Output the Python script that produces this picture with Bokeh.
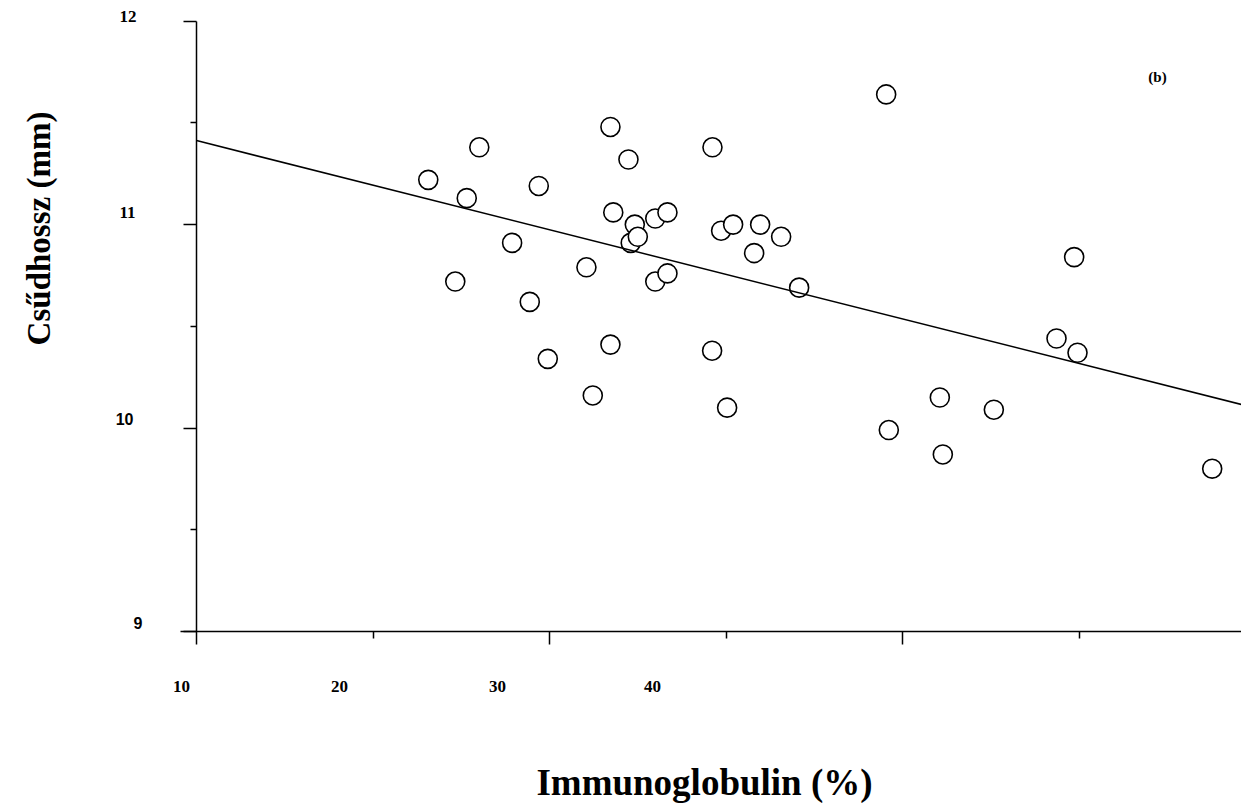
import math
from bokeh.plotting import figure
from bokeh.models import Range1d, FixedTicker, Label, CustomJSTickFormatter, ColumnDataSource
from bokeh.embed import file_html
from bokeh.resources import INLINE

# ---------------- data ----------------
immunoglobulin = [23.13, 24.66, 25.31, 26.02, 27.88, 28.88, 29.39, 29.90, 32.09, 32.45,
                  33.45, 33.61, 33.45, 34.47, 34.60, 34.83, 35.00, 35.99, 35.99, 36.68,
                  36.68, 39.23, 39.21, 39.72, 40.06, 40.40, 41.59, 41.93, 43.12, 44.14,
                  49.07, 49.22, 52.11, 52.28, 55.17, 58.72, 59.72, 59.91, 67.54]
csudhossz = [11.22, 10.72, 11.13, 11.38, 10.91, 10.62, 11.19, 10.34, 10.79, 10.16,
             11.48, 11.06, 10.41, 11.32, 10.91, 11.00, 10.94, 11.03, 10.72, 11.06,
             10.76, 11.38, 10.38, 10.97, 10.10, 11.00, 10.86, 11.00, 10.94, 10.69,
             11.64, 9.99, 10.15, 9.87, 10.09, 10.44, 10.84, 10.37, 9.80]
fit_x = [10, 70]
fit_y = [11.413, 10.098]

x_major_ticks = [10, 30, 50, 70]
x_minor_ticks = [20, 40, 60]
x_tick_labels = ["10", "20", "30", "40"]
y_major_ticks = [9, 10, 11, 12]
y_minor_ticks = [9.5, 10.5, 11.5]
y_tick_labels = ["12", "11", "10", "9"]

x_title = "Immunoglobulin (%)"
y_title = "Csűdhossz (mm)"
panel_tag = "(b)"

# ---------------- layout (canvas pixels) ----------------
W, H = 1241, 803
PX_PER_X = 17.652      # pixels per x unit
PX_PER_Y = 203.4       # pixels per y unit
X_ORIGIN_PX = 196      # where x = 10 sits
Y_TOP_PX = 20.7        # where y = 12 sits
X0 = 10 - X_ORIGIN_PX / PX_PER_X
X1 = 10 + (W - X_ORIGIN_PX) / PX_PER_X
Y1 = 12 + Y_TOP_PX / PX_PER_Y
Y0 = 12 - (H - Y_TOP_PX) / PX_PER_Y


def xd(px):
    return X0 + px / W * (X1 - X0)


def yd(py):
    return Y1 - py / H * (Y1 - Y0)


SERIF = "Liberation Serif"
SANS = "Liberation Sans"

p = figure(width=W, height=H, x_range=Range1d(X0, X1), y_range=Range1d(Y0, Y1),
           output_backend="svg", toolbar_location=None,
           min_border_left=0, min_border_right=0, min_border_top=0, min_border_bottom=0)
p.title.visible = False
p.outline_line_color = None
p.xgrid.visible = False
p.ygrid.visible = False
p.background_fill_color = "white"
p.border_fill_color = "white"

empty = CustomJSTickFormatter(code="return ''")
axis_specs = ((p.xaxis, 9, x_major_ticks, x_minor_ticks, 7, (xd(180), X1)),
              (p.yaxis, 10, y_major_ticks, y_minor_ticks, 6, (9, 12)))
for ax, loc, ticks, minors, minor_len, bnds in axis_specs:
    ax.fixed_location = loc
    ax.bounds = bnds
    ax.ticker = FixedTicker(ticks=ticks, minor_ticks=minors)
    ax.formatter = empty
    ax.major_label_text_font_size = "0px"
    ax.axis_line_color = "black"
    ax.axis_line_width = 1.5
    ax.major_tick_line_color = "black"
    ax.major_tick_line_width = 1.5
    ax.minor_tick_line_color = "black"
    ax.minor_tick_line_width = 1.5
    ax.major_tick_out = 13
    ax.major_tick_in = 0
    ax.minor_tick_out = minor_len
    ax.minor_tick_in = 0

src = ColumnDataSource(dict(x=immunoglobulin, y=csudhossz))
p.scatter("x", "y", source=src, marker="circle", size=19, fill_color="white",
          line_color="black", line_width=1.6)
p.line(fit_x, fit_y, line_color="black", line_width=1.5)

# x tick labels (placed as in the reference, offset from the tick marks)
x_label_px = [181, 339, 497, 652]
for txt, px in zip(x_tick_labels, x_label_px):
    p.add_layout(Label(x=xd(px), y=yd(686), text=txt, text_align="center",
                       text_baseline="middle", text_font=SERIF, text_font_style="bold",
                       text_font_size="17px", text_color="black"))

# y tick labels (mixed fonts as in the reference)
y_label_pos = [(136, 16, SERIF, "17px"), (135, 212, SERIF, "17px"),
               (133, 418, SANS, "16px"), (142, 622, SANS, "16px")]
for txt, (px, py, fnt, fs) in zip(y_tick_labels, y_label_pos):
    p.add_layout(Label(x=xd(px), y=yd(py), text=txt, text_align="right",
                       text_baseline="middle", text_font=fnt, text_font_style="bold",
                       text_font_size=fs, text_color="black"))

# axis titles and panel tag
p.add_layout(Label(x=xd(704), y=yd(782), text=x_title, text_align="center",
                   text_baseline="middle", text_font=SERIF, text_font_style="bold",
                   text_font_size="37px", text_color="black"))
p.add_layout(Label(x=xd(38), y=yd(228), text=y_title, text_align="center",
                   text_baseline="middle", angle=math.pi / 2, text_font=SERIF,
                   text_font_style="bold", text_font_size="33px", text_color="black"))
p.add_layout(Label(x=xd(1157), y=yd(76), text=panel_tag, text_align="center",
                   text_baseline="middle", text_font=SERIF, text_font_style="bold",
                   text_font_size="15px", text_color="black"))

open("out.html", "w").write(file_html(p, INLINE))
